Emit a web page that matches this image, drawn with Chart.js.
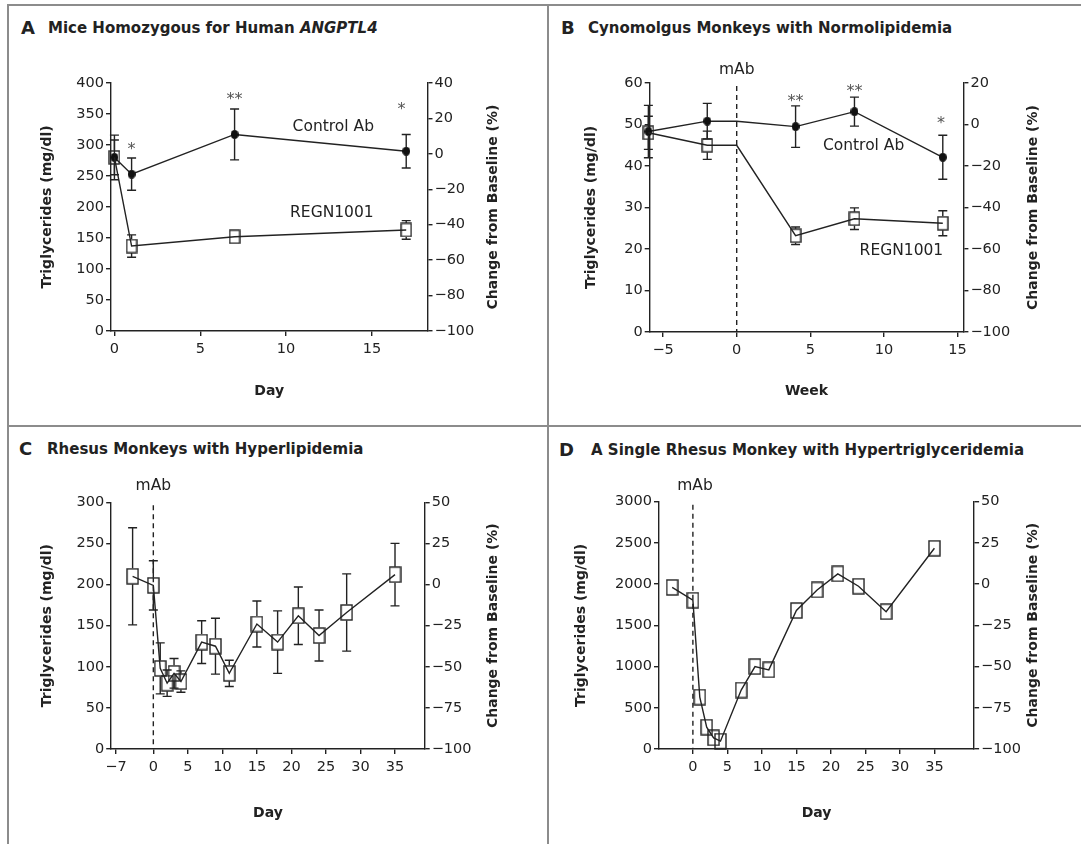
<!DOCTYPE html>
<html>
<head>
<meta charset="utf-8">
<script src="https://cdn.jsdelivr.net/npm/chart.js@4.4.0/dist/chart.umd.min.js"></script>
<style>
  body { margin: 0; background: #fff; }
  #fig { position: relative; width: 1081px; height: 844px; overflow: hidden; font-family: "DejaVu Sans", sans-serif; color: #222; }
  .rule { position: absolute; background: #8c8c8c; }
  .lt { position: absolute; font-weight: bold; font-size: 18px; line-height: 20px; }
  .tt { position: absolute; font-weight: bold; font-size: 15px; line-height: 20px; white-space: nowrap; }
  canvas { position: absolute; }
</style>
</head>
<body>
<div id="fig">
  <div class="rule" style="left:7px;top:4px;width:1074px;height:2px"></div>
  <div class="rule" style="left:7px;top:4px;width:2px;height:840px"></div>
  <div class="rule" style="left:547px;top:4px;width:2px;height:840px"></div>
  <div class="rule" style="left:7px;top:425px;width:1074px;height:2px"></div>

  <div class="lt" style="left:21px;top:18px">A</div>
  <div class="tt" style="left:48px;top:18px">Mice Homozygous for Human <i>ANGPTL4</i></div>
  <div class="lt" style="left:561px;top:18px">B</div>
  <div class="tt" style="left:588px;top:18px">Cynomolgus Monkeys with Normolipidemia</div>
  <div class="lt" style="left:19px;top:439px">C</div>
  <div class="tt" style="left:47px;top:439px">Rhesus Monkeys with Hyperlipidemia</div>
  <div class="lt" style="left:559px;top:440px">D</div>
  <div class="tt" style="left:591px;top:440px">A Single Rhesus Monkey with Hypertriglyceridemia</div>

  <canvas id="chartA" width="537" height="385" style="left:9px;top:40px"></canvas>
  <canvas id="chartB" width="532" height="385" style="left:549px;top:40px"></canvas>
  <canvas id="chartC" width="537" height="382" style="left:9px;top:462px"></canvas>
  <canvas id="chartD" width="532" height="382" style="left:549px;top:462px"></canvas>
</div>
<script>
// ---- A: mice, day
var A_DAYS = [0, 1, 7, 17];
var A_CONTROL = [280, 253, 317, 290];
var A_CONTROL_SE = [36, 26, 41, 27];
var A_REGN = [280, 137, 152, 163];
var A_REGN_SE = [28, 18, 5, 15];
var A_X_TICKS = [0, 5, 10, 15];
var A_Y_TICKS = [0, 50, 100, 150, 200, 250, 300, 350, 400];
var A_PCT_TICKS = [-100, -80, -60, -40, -20, 0, 20, 40];

// ---- B: cynomolgus, week
var B_WEEKS = [-6, -2, 0, 4, 8, 14];
var B_MARKED = [1, 1, 0, 1, 1, 1];
var B_CONTROL = [48.3, 50.8, 50.8, 49.5, 53.1, 42.1];
var B_CONTROL_SE = [6.3, 4.3, 0, 5, 3.5, 5.3];
var B_REGN = [48, 45, 45, 23.2, 27.3, 26.2];
var B_REGN_SE = [4, 3.4, 0, 2.1, 2.6, 3];
var B_X_TICKS = [-5, 0, 5, 10, 15];
var B_Y_TICKS = [0, 10, 20, 30, 40, 50, 60];
var B_PCT_TICKS = [-100, -80, -60, -40, -20, 0, 20];

// ---- C: rhesus group, day
var C_DAYS = [-3, 0, 1, 2, 3, 4, 7, 9, 11, 15, 18, 21, 24, 28, 35];
var C_TG = [210, 199, 98, 80, 92, 82, 130, 125, 92, 152, 130, 162, 138, 166, 212];
var C_TG_SE = [59, 30, 31, 16, 18, 13, 26, 34, 16, 28, 38, 35, 31, 47, 38];
var C_X_TICKS = [-5.4, 0, 5, 10, 15, 20, 25, 30, 35];
var C_X_LABELS = ['\u22127', '0', '5', '10', '15', '20', '25', '30', '35'];
var C_Y_TICKS = [0, 50, 100, 150, 200, 250, 300];
var C_PCT_TICKS = [-100, -75, -50, -25, 0, 25, 50];

// ---- D: single rhesus, day
var D_DAYS = [-3, 0, 1, 2, 3, 4, 7, 9, 11, 15, 18, 21, 24, 28, 35];
var D_TG = [1960, 1805, 630, 265, 135, 95, 715, 1000, 960, 1680, 1930, 2125, 1975, 1665, 2435];
var D_X_TICKS = [0, 5, 10, 15, 20, 25, 30, 35];
var D_Y_TICKS = [0, 500, 1000, 1500, 2000, 2500, 3000];
var D_PCT_TICKS = [-100, -75, -50, -25, 0, 25, 50];

var INK = '#222';
var FONT = '"DejaVu Sans", sans-serif';
var TICK_SIZE = 14.5;
var TITLE_SIZE = 14;

function minus(v) { return String(v).replace('-', '\u2212'); }
function pts(xs, ys) { return xs.map(function (x, i) { return { x: x, y: ys[i] }; }); }

function square(w, h) {
  var c = document.createElement('canvas');
  c.width = w + 2; c.height = h + 2;
  var g = c.getContext('2d');
  g.strokeStyle = INK; g.lineWidth = 1.4;
  g.strokeRect(1, 1, w, h);
  return c;
}
function dot(w, h) {
  var c = document.createElement('canvas');
  c.width = w; c.height = h;
  var g = c.getContext('2d');
  g.fillStyle = '#111';
  g.beginPath(); g.ellipse(w / 2, h / 2, w / 2, h / 2, 0, 0, Math.PI * 2); g.fill();
  return c;
}
var SQ_SMALL = square(10, 13), SQ_BIG = square(11, 15), DOT = dot(8, 9);

var errorBars = {
  id: 'errorBars',
  afterDatasetsDraw: function (chart) {
    var ctx = chart.ctx, ys = chart.scales.y;
    chart.data.datasets.forEach(function (ds, i) {
      if (!ds.err) return;
      var meta = chart.getDatasetMeta(i);
      ctx.save();
      ctx.strokeStyle = INK; ctx.lineWidth = 1.4;
      meta.data.forEach(function (pt, j) {
        var e = ds.err[j];
        if (!e) return;
        var v = ds.data[j].y, gap = ds.gap || 0;
        var top = ys.getPixelForValue(v + e), bot = ys.getPixelForValue(v - e);
        ctx.beginPath();
        if (top < pt.y - gap) {
          ctx.moveTo(pt.x, top); ctx.lineTo(pt.x, pt.y - gap);
          ctx.moveTo(pt.x - 4.5, top); ctx.lineTo(pt.x + 4.5, top);
        }
        if (bot > pt.y + gap) {
          ctx.moveTo(pt.x, bot); ctx.lineTo(pt.x, pt.y + gap);
          ctx.moveTo(pt.x - 4.5, bot); ctx.lineTo(pt.x + 4.5, bot);
        }
        ctx.stroke();
      });
      ctx.restore();
    });
  }
};

var extras = {
  id: 'extras',
  afterDraw: function (chart) {
    var o = chart.options.plugins.extras, ctx = chart.ctx, a = chart.chartArea;
    var xs = chart.scales.x, ys = chart.scales.y;
    ctx.save();
    if (o.mAb) {
      var x0 = xs.getPixelForValue(0);
      ctx.strokeStyle = INK; ctx.lineWidth = 1.4; ctx.setLineDash([5, 4]);
      ctx.beginPath(); ctx.moveTo(x0, a.top + 3); ctx.lineTo(x0, a.bottom); ctx.stroke();
      ctx.setLineDash([]);
    }
    ctx.fillStyle = INK; ctx.textAlign = 'center'; ctx.textBaseline = 'middle';
    o.notes.forEach(function (n) {
      ctx.font = (n.size || 15.5) + 'px ' + FONT;
      ctx.fillStyle = n.text.charAt(0) === '*' ? '#555' : INK;
      ctx.fillText(n.text, xs.getPixelForValue(n.x), ys.getPixelForValue(n.y) + (n.text.charAt(0) === '*' ? 3 : 0));
    });
    ctx.fillStyle = INK;
    ctx.font = 'bold ' + TITLE_SIZE + 'px ' + FONT;
    ctx.translate(o.rightTitleX, (a.top + a.bottom) / 2);
    ctx.rotate(-Math.PI / 2);
    ctx.fillText('Change from Baseline (%)', 0, 0);
    ctx.restore();
  }
};

function axis(position, min, max, ticks, labels, extra) {
  var s = {
    type: 'linear', position: position, min: min, max: max,
    afterBuildTicks: function (sc) { sc.ticks = ticks.map(function (v) { return { value: v }; }); },
    ticks: {
      font: { family: FONT, size: TICK_SIZE }, color: INK, padding: position === 'bottom' ? 5 : 2,
      callback: function (v, i) { return labels ? labels[i] : minus(v); }
    },
    grid: { drawOnChartArea: false, tickLength: 5, color: INK, lineWidth: 1.4 },
    border: { color: INK, width: 1.4 }
  };
  for (var k in extra) s[k] = extra[k];
  return s;
}

function panel(id, p) {
  var lh2 = TITLE_SIZE * 1.2 / 2 + 4;
  var cx = p.box[0], cy = p.box[1], cw = p.box[2], ch = p.box[3];
  var padLeft = p.leftTitleX - cx - lh2;
  var leftW = p.plot[0] - cx - padLeft;
  var rightW = cx + cw - p.plot[1];
  var xBottom = p.xTitleY - cy + lh2;
  var xH = xBottom - (p.plot[3] - cy);
  var title = function (t) {
    return { display: true, text: t, color: INK, padding: { top: 4, bottom: 4 },
      font: { family: FONT, size: TITLE_SIZE, weight: 'bold' } };
  };
  var x = axis('bottom', p.x[0], p.x[1], p.xTicks, p.xLabels, {
    title: title(p.xTitle),
    afterFit: function (s) { s.height = xH; s.paddingLeft = 0; s.paddingRight = 0; }
  });
  var y = axis('left', p.y[0], p.y[1], p.yTicks, null, {
    title: title('Triglycerides (mg/dl)'),
    afterFit: function (s) { s.width = leftW; s.paddingTop = 0; s.paddingBottom = 0; }
  });
  var y2 = axis('right', -100, p.pctMax, p.pctTicks, null, {
    afterFit: function (s) { s.width = rightW; s.paddingTop = 0; s.paddingBottom = 0; }
  });
  return new Chart(document.getElementById(id), {
    type: 'line',
    data: { datasets: p.datasets },
    options: {
      responsive: false, animation: false,
      layout: { padding: { left: padLeft, top: p.plot[2] - cy, right: 0, bottom: ch - xBottom } },
      elements: { line: { tension: 0, borderWidth: 1.4, borderColor: INK } },
      plugins: {
        legend: { display: false }, tooltip: { enabled: false },
        extras: { mAb: p.mAb, notes: p.notes, rightTitleX: p.rightTitleX - cx }
      },
      scales: { x: x, y: y, y2: y2 }
    },
    plugins: [errorBars, extras]
  });
}

function series(xs, ys, se, marker, gap, radii) {
  return {
    data: pts(xs, ys), err: se, gap: gap, clip: false,
    borderColor: INK, borderWidth: 1.4, fill: false,
    pointStyle: marker, pointRadius: radii || 6
  };
}

panel('chartA', {
  box: [9, 40, 537, 385], plot: [111, 427.5, 83, 331],
  leftTitleX: 47, rightTitleX: 493.6, xTitleY: 391.7,
  x: [-0.2, 18.24], xTicks: A_X_TICKS, xTitle: 'Day',
  y: [0, 400], yTicks: A_Y_TICKS, pctMax: 40, pctTicks: A_PCT_TICKS,
  datasets: [
    series(A_DAYS, A_REGN, A_REGN_SE, SQ_SMALL, 7),
    series(A_DAYS, A_CONTROL, A_CONTROL_SE, DOT, 4)
  ],
  notes: [
    { x: 12.75, y: 329.5, text: 'Control Ab' },
    { x: 12.67, y: 190.8, text: 'REGN1001' },
    { x: 1, y: 297, text: '*', size: 16 },
    { x: 7, y: 378, text: '**', size: 16 },
    { x: 16.72, y: 360.8, text: '*', size: 16 }
  ]
});

panel('chartB', {
  box: [549, 40, 532, 385], plot: [649.7, 963.4, 83, 332],
  leftTitleX: 591.8, rightTitleX: 1033.4, xTitleY: 391,
  x: [-5.91, 15.4], xTicks: B_X_TICKS, xTitle: 'Week',
  y: [0, 60], yTicks: B_Y_TICKS, pctMax: 20, pctTicks: B_PCT_TICKS, mAb: true,
  datasets: [
    series(B_WEEKS, B_REGN, B_REGN_SE, SQ_SMALL, 7, B_MARKED.map(function (m) { return m ? 6 : 0; })),
    series(B_WEEKS, B_CONTROL, B_CONTROL_SE, DOT, 4, B_MARKED.map(function (m) { return m ? 6 : 0; }))
  ],
  notes: [
    { x: 0, y: 63.1, text: 'mAb' },
    { x: 8.62, y: 44.9, text: 'Control Ab' },
    { x: 11.19, y: 19.6, text: 'REGN1001' },
    { x: 4, y: 56.1, text: '**', size: 16 },
    { x: 8, y: 58.5, text: '**', size: 16 },
    { x: 13.88, y: 50.9, text: '*', size: 16 }
  ]
});

panel('chartC', {
  box: [9, 462, 537, 382], plot: [111.2, 424.7, 502.3, 749],
  leftTitleX: 47, rightTitleX: 493.6, xTitleY: 813,
  x: [-6.1, 39.3], xTicks: C_X_TICKS, xLabels: C_X_LABELS, xTitle: 'Day',
  y: [0, 300], yTicks: C_Y_TICKS, pctMax: 50, pctTicks: C_PCT_TICKS, mAb: true,
  datasets: [series(C_DAYS, C_TG, C_TG_SE, SQ_BIG, 8)],
  notes: [{ x: 0, y: 320, text: 'mAb' }]
});

panel('chartD', {
  box: [549, 462, 532, 382], plot: [659, 974.1, 501.7, 749],
  leftTitleX: 581.4, rightTitleX: 1033.4, xTitleY: 813,
  x: [-4.91, 40.75], xTicks: D_X_TICKS, xTitle: 'Day',
  y: [0, 3000], yTicks: D_Y_TICKS, pctMax: 50, pctTicks: D_PCT_TICKS, mAb: true,
  datasets: [series(D_DAYS, D_TG, null, SQ_BIG, 8)],
  notes: [{ x: 0.3, y: 3194, text: 'mAb' }]
});
</script>
</body>
</html>
